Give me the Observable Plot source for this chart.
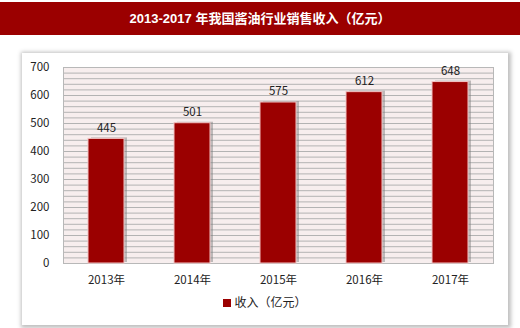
<!DOCTYPE html>
<html><head><meta charset="utf-8">
<script src="https://cdn.jsdelivr.net/npm/d3@7"></script>
<script src="https://cdn.jsdelivr.net/npm/@observablehq/plot@0.6"></script>
<style>
body{margin:0;width:520px;height:328px;background:#fff;position:relative;overflow:hidden;font-family:"Noto Sans CJK SC","Noto Sans",sans-serif;}
#title{position:absolute;left:0;top:2px;width:520px;height:33px;background:#9b0000;color:#fff;font-weight:bold;font-size:13px;line-height:33px;text-align:center;font-family:"Liberation Sans","Noto Sans CJK SC",sans-serif;}
#panel{position:absolute;left:22px;top:53px;width:486px;height:272px;background:#fff;box-shadow:1px 1px 4px 2px rgba(0,0,0,0.25);}
#chart{position:absolute;left:0;top:0;}
#legend{position:absolute;left:0;top:240px;width:486px;text-align:center;font-size:12px;color:#222;}
#legend span.sw{display:inline-block;width:8px;height:8px;background:#9b0000;margin-right:3px;vertical-align:0px;}
</style></head>
<body>
<div id="title">2013-2017 年我国酱油行业销售收入（亿元）</div>
<div id="panel"><div id="chart"></div><div id="legend"><span class="sw"></span>收入（亿元）</div></div>
<script>
const years = ["2013年","2014年","2015年","2016年","2017年"];
const revenue = [445, 501, 575, 612, 648];
const yTicks = [0,100,200,300,400,500,600,700];
const gridStep = 20;

const data = years.map((y,i)=>({year:y, value:revenue[i]}));
const grid = d3.range(0, 700 + 1, gridStep);

const chart = Plot.plot({
  width: 486, height: 240,
  marginLeft: 41, marginRight: 15, marginTop: 14, marginBottom: 30,
  style: {fontFamily: "'Noto Sans CJK SC','Noto Sans',sans-serif", fontSize: "11px", color: "#222", background: "transparent"},
  x: {domain: years, paddingInner: 0.58, paddingOuter: 0.29, label: null},
  y: {domain: [0, 700], label: null},
  marks: [
    Plot.frame({fill: "#f7eeee", stroke: "none"}),
    Plot.ruleY(grid, {stroke: "#b3b3b3", strokeWidth: 1}),
    Plot.frame({stroke: "#b8b8b8"}),
    Plot.barY(data, {x: "year", y: "value", fill: "#777", fillOpacity: 0.45, dx: 3, dy: -1}),
    Plot.barY(data, {x: "year", y: "value", fill: "#9b0000", stroke: "#f2c4c4", strokeWidth: 1}),
    Plot.text(data, {x: "year", y: "value", text: d => String(d.value), dy: -11, fill: "#222", fontSize: 11.5}),
    Plot.axisY({ticks: yTicks, tickSize: 0, tickPadding: 14, label: null, fontSize: 11.5}),
    Plot.axisX({tickSize: 0, tickPadding: 12, label: null, fontSize: 11.5})
  ]
});
document.getElementById("chart").appendChild(chart);
</script>
</body></html>
